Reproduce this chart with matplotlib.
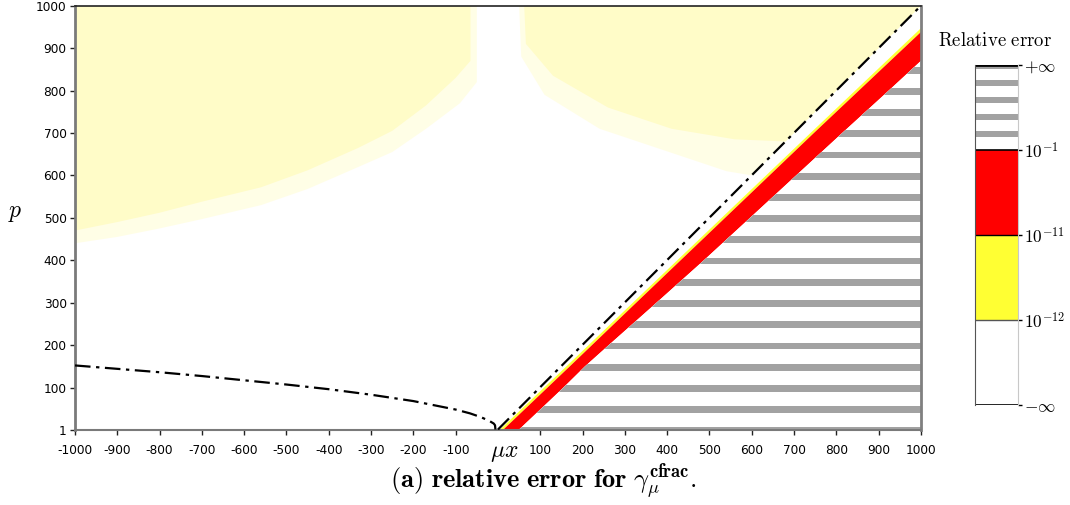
import matplotlib

matplotlib.use("Agg")
import matplotlib.pyplot as plt
from matplotlib.patches import Polygon

plt.rcParams["mathtext.fontset"] = "cm"

# axis ticks (the 0 tick is replaced by the mu*x label)
x_ticks = [-1000, -900, -800, -700, -600, -500, -400, -300, -200, -100,
           100, 200, 300, 400, 500, 600, 700, 800, 900, 1000]
x_tick_labels = [str(v) for v in x_ticks]
y_ticks = [1, 100, 200, 300, 400, 500, 600, 700, 800, 900, 1000]

# dash-dot bounds
diag_x = [0, 1000]
diag_p = [1, 1000]
curve_x = [-1000, -900, -800, -700, -600, -500, -400, -300, -200, -100,
           -66, -40, -20, -10, -7, -6]
curve_p = [152, 144, 136, 127, 117, 107, 96, 83, 68, 48, 39, 30, 21, 15, 11, 1]

# red band (1e-11 .. 1e-1) edges
red_top_x = [13, 170, 327, 537, 747, 1000]
red_top_p = [1, 150, 300, 500, 700, 938]
red_bot_x = [50, 102, 155, 206, 262, 375, 487, 596, 705, 814, 924, 1000]
red_bot_p = [1, 50, 100, 150, 200, 300, 400, 500, 600, 700, 800, 870]
# thin solid yellow edge above the red band
yel_edge_x = [5, 162, 319, 529, 739, 1000]
yel_edge_p = [1, 150, 300, 500, 700, 947]

# sparse yellow noise areas: faint outer part, denser inner part
fade_left_x = [-1000, -1000, -900, -800, -700, -560, -450, -330, -250, -170, -90, -50, -50]
fade_left_p = [1000, 440, 455, 475, 497, 530, 568, 620, 655, 710, 770, 820, 1000]
noise_left_x = [-1000, -1000, -900, -800, -700, -560, -450, -330, -250, -170, -100, -65, -65]
noise_left_p = [1000, 470, 490, 512, 538, 572, 612, 665, 705, 765, 830, 870, 1000]
fade_right_x = [50, 55, 110, 240, 390, 540, 600, 1000]
fade_right_p = [1000, 880, 790, 710, 660, 610, 600, 1000]
noise_right_x = [62, 66, 130, 260, 410, 560, 680, 1000]
noise_right_p = [1000, 910, 835, 760, 710, 685, 680, 1000]

# hatch stripes for +inf error (stripe centres in p)
stripe_p = [0, 50, 100, 150, 200, 250, 300, 350, 400, 450,
            500, 550, 600, 650, 700, 750, 800, 850]

# colour bar
cb_labels = [r"$-\infty$", r"$10^{-12}$", r"$10^{-11}$", r"$10^{-1}$", r"$+\infty$"]
cb_colors = ["white", "#ffff33", "#ff0000", "white"]
cb_stripes = [3.19, 3.39, 3.59, 3.79, 3.99]

GRAY = "#a2a2a2"
DASHDOT = (0, (7, 2.5, 1.5, 2.5))

fig = plt.figure(figsize=(10.7, 5.05), dpi=100)
ax = fig.add_axes([0.0701, 0.1495, 0.7906, 0.8392])
ax.set_xlim(-1000, 1000)
ax.set_ylim(1, 1000)

ax.fill(fade_left_x, fade_left_p, color="#fffee6", lw=0, zorder=1)
ax.fill(fade_right_x, fade_right_p, color="#fffee6", lw=0, zorder=1)
ax.fill(noise_left_x, noise_left_p, color="#fffcc8", lw=0, zorder=1.2)
ax.fill(noise_right_x, noise_right_p, color="#fffcc8", lw=0, zorder=1.2)

yel_poly = list(zip(yel_edge_x, yel_edge_p)) + list(zip(red_top_x, red_top_p))[::-1]
ax.add_patch(Polygon(yel_poly, closed=True, fc="#ffff33", ec="none", zorder=2))
red_poly = list(zip(red_top_x, red_top_p)) + list(zip(red_bot_x, red_bot_p))[::-1]
ax.add_patch(Polygon(red_poly, closed=True, fc="#ff0000", ec="none", zorder=2))

inf_poly = Polygon(list(zip(red_bot_x, red_bot_p)) + [(1000, 1)], closed=True,
                   fc="white", ec="none", zorder=2)
ax.add_patch(inf_poly)
for c in stripe_p:
    s = ax.axhspan(c - 10, c + 6, color=GRAY, lw=0, zorder=2.5)
    s.set_clip_path(inf_poly)

ax.plot(diag_x, diag_p, color="black", lw=1.6, ls=DASHDOT, zorder=4)
ax.plot(curve_x, curve_p, color="black", lw=1.6, ls=DASHDOT, zorder=4)

ax.set_xticks(x_ticks)
ax.set_xticklabels(x_tick_labels)
ax.set_yticks(y_ticks)
ax.set_yticklabels([str(v) for v in y_ticks])
ax.tick_params(axis="x", direction="out", length=3.6, width=1, pad=6.5,
               labelsize=8.7, color="#222222")
ax.tick_params(axis="y", direction="out", length=3.6, width=1, pad=2.5,
               labelsize=8.7, color="#222222")
ax.spines["top"].set_color("#222222")
ax.spines["top"].set_linewidth(1.2)
ax.spines["left"].set_color("#7a7a7a")
ax.spines["left"].set_linewidth(2)
ax.spines["bottom"].set_color("#7a7a7a")
ax.spines["bottom"].set_linewidth(1.5)
ax.spines["right"].set_color("#808080")
ax.spines["right"].set_linewidth(2)

ax.text(15, -0.065, r"$\mu x$", transform=ax.get_xaxis_transform(),
        ha="center", va="baseline", fontsize=17)
fig.text(15 / 1070, 1 - 212 / 505, r"$p$", ha="center", va="center", fontsize=17)
fig.text(543 / 1070, 1 - 482 / 505,
         r"$\mathbf{(a)\ relative\ error\ for\ }\gamma_{\mu}^{\mathbf{cfrac}}\mathbf{.}$",
         ha="center", va="center", fontsize=19)

# colour bar
cax = fig.add_axes([0.9112, 0.198, 0.0402, 0.673])
cax.set_xlim(0, 1)
cax.set_ylim(0, 4)
for i, col in enumerate(cb_colors):
    cax.axhspan(i, i + 1, color=col, lw=0)
for c in cb_stripes:
    cax.axhspan(c - 0.03, c + 0.03, color=GRAY, lw=0)
cax.axhline(4, color="black", lw=2)
cax.axhline(3, color="black", lw=1.2)
cax.axhline(2, color="black", lw=1)
cax.axhline(1, color="#555555", lw=1)
cax.axhline(0, color="black", lw=1.2)
cax.set_xticks([])
cax.yaxis.tick_right()
cax.set_yticks([0, 1, 2, 3, 4])
cax.set_yticklabels(cb_labels)
cax.tick_params(axis="y", length=3, width=1, pad=1, labelsize=12.5)
cax.spines["top"].set_visible(False)
cax.spines["bottom"].set_visible(False)
cax.spines["left"].set_color("#555555")
cax.spines["right"].set_color("#c8c8c8")
fig.text(995 / 1070, 1 - 40 / 505, r"$\mathrm{Relative\ error}$",
         ha="center", va="center", fontsize=13.5)

fig.savefig("out.png", dpi=100)
